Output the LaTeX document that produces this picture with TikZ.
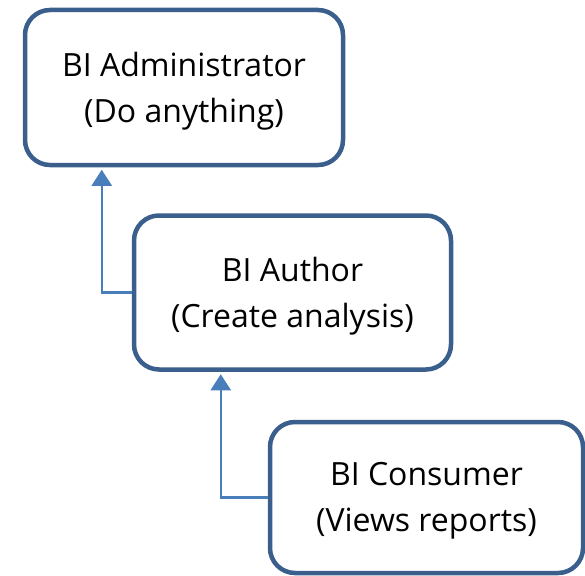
\documentclass[tikz,border=0pt]{standalone}
\usepackage{fontspec}
\setmainfont{Open Sans}
\usetikzlibrary{arrows.meta}
\definecolor{boxline}{HTML}{3A5F8D}
\definecolor{connline}{HTML}{4A7EBB}
\tikzset{
  rolebox/.style={draw=boxline, line width=4.5pt, rounded corners=25pt, fill=white, inner sep=0pt},
  roletext/.style={align=center, inner sep=0pt, font=\fontsize{32}{46}\selectfont, text=black},
  conn/.style={draw=connline, line width=2.4pt, -{Triangle[width=20pt,length=16pt]}}
}
\begin{document}
\begin{tikzpicture}[x=1pt,y=-1pt]
\useasboundingbox (0,0) rectangle (585,575);
\node[rolebox, minimum width=318pt, minimum height=155pt] (b1) at (184,87.5) {};
\node[rolebox, minimum width=317pt, minimum height=154pt] (b2) at (292.5,292.5) {};
\node[rolebox, minimum width=313pt, minimum height=151pt] (b3) at (426.5,497.5) {};
\node[roletext] (t1) at ([yshift=-3.5pt]b1.center) {BI Administrator\\(Do anything)};
\node[roletext] (t2) at ([yshift=-3.5pt]b2.center) {BI Author\\(Create analysis)};
\node[roletext] (t3) at ([yshift=-3.5pt]b3.center) {BI Consumer\\(Views reports)};
\draw[conn] (b2.west) -| ([xshift=79pt,yshift=-2.5pt]b1.south west);
\draw[conn] (b3.west) -| ([xshift=89pt,yshift=-2.5pt]b2.south west);
\end{tikzpicture}
\end{document}
